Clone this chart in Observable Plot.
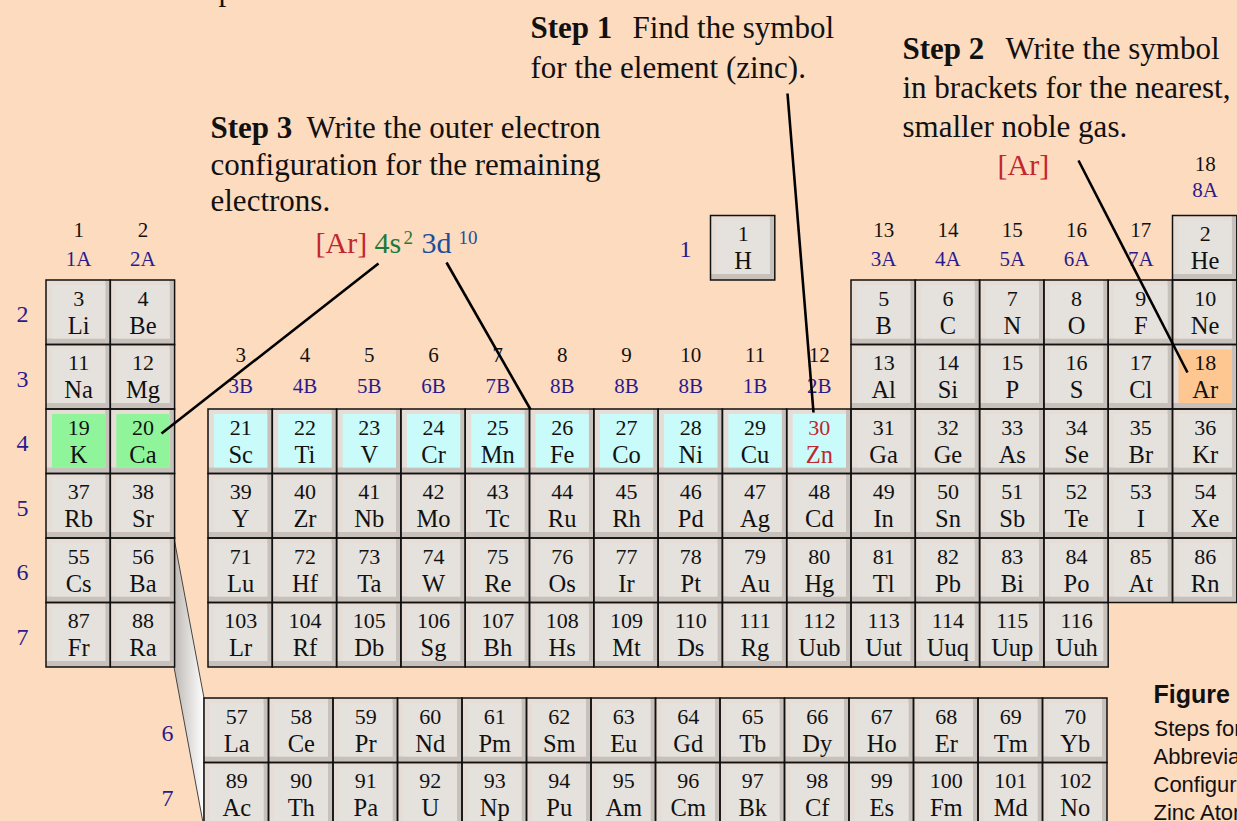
<!DOCTYPE html>
<html><head><meta charset="utf-8">
<script src="https://cdn.jsdelivr.net/npm/d3@7"></script>
<script src="https://cdn.jsdelivr.net/npm/@observablehq/plot@0.6"></script>
<style>
html,body{margin:0;padding:0;background:#fddbbf;overflow:hidden}
</style></head><body><div id="chart"></div>
<script>
// ---------- data ----------
const symbols = ["H","He","Li","Be","B","C","N","O","F","Ne","Na","Mg","Al","Si","P","S","Cl","Ar",
  "K","Ca","Sc","Ti","V","Cr","Mn","Fe","Co","Ni","Cu","Zn","Ga","Ge","As","Se","Br","Kr",
  "Rb","Sr","Y","Zr","Nb","Mo","Tc","Ru","Rh","Pd","Ag","Cd","In","Sn","Sb","Te","I","Xe",
  "Cs","Ba","La","Ce","Pr","Nd","Pm","Sm","Eu","Gd","Tb","Dy","Ho","Er","Tm","Yb",
  "Lu","Hf","Ta","W","Re","Os","Ir","Pt","Au","Hg","Tl","Pb","Bi","Po","At","Rn",
  "Fr","Ra","Ac","Th","Pa","U","Np","Pu","Am","Cm","Bk","Cf","Es","Fm","Md","No",
  "Lr","Rf","Db","Sg","Bh","Hs","Mt","Ds","Rg","Uub","Uut","Uuq","Uup","Uuh"];
const periodStarts = [1, 3, 11, 19, 37, 55, 87];
const groupNumbers = ["1","2","3","4","5","6","7","8","9","10","11","12","13","14","15","16","17","18"];
const groupLetters = ["1A","2A","3B","4B","5B","6B","7B","8B","8B","8B","1B","2B","3A","4A","5A","6A","7A","8A"];
const periodLabels = ["1","2","3","4","5","6","7"];
const fPeriodLabels = ["6","7"];
const greenSymbols = ["K","Ca"];
const cyanSymbols = ["Sc","Ti","V","Cr","Mn","Fe","Co","Ni","Cu","Zn"];
const orangeSymbols = ["Ar"];
const redSymbols = ["Zn"];

const stepLines = [
  {text:"Step 1", bold:true, x:530, y:37},
  {text:"Find the symbol", x:632, y:37},
  {text:"for the element (zinc).", x:530, y:77},
  {text:"Step 2", bold:true, x:902, y:58},
  {text:"Write the symbol", x:1005, y:58},
  {text:"in brackets for the nearest,", x:902, y:97},
  {text:"smaller noble gas.", x:902, y:136},
  {text:"Step 3", bold:true, x:210, y:137},
  {text:"Write the outer electron", x:306, y:137},
  {text:"configuration for the remaining", x:210, y:174},
  {text:"electrons.", x:210, y:210},
  {text:"p", x:218, y:-1}
];
const configParts = [
  {text:"[Ar]", color:"#c1272d", x:315, y:252, size:30},
  {text:"4s", color:"#1f7a3a", x:374, y:252, size:30},
  {text:"2", color:"#1f7a3a", x:403, y:243, size:19},
  {text:"3d", color:"#1d4f9c", x:421, y:252, size:30},
  {text:"10", color:"#1d4f9c", x:458, y:243, size:19},
  {text:"[Ar]", color:"#c1272d", x:997, y:174, size:30}
];
const pointers = [
  {x1:787, y1:93, x2:813, y2:412},
  {x1:1078, y1:160, x2:1187, y2:372},
  {x1:378, y1:263, x2:161, y2:433},
  {x1:446, y1:262, x2:530, y2:409}
];
const captionTitle = ["Figure 5.9"];
const captionLines = ["Steps for Writing the", "Abbreviated Electron", "Configuration for a", "Zinc Atom"];

// ---------- layout ----------
const CW = 64.3, FW = 64.5, RH = 64.5;
function colLeft(g){ return g===1 ? 46 : g===2 ? 110.3 : 208 + (g-3)*CW; }
function rowTop(p){ return p===1 ? 215.5 : 280 + (p-2)*RH; }

const cells = symbols.map((s, i) => {
  const z = i + 1;
  let p = 0; periodStarts.forEach((st, j) => { if (z >= st) p = j + 1; });
  const k = z - periodStarts[p-1];
  let g = null, f = null;
  if (p === 1) g = k === 0 ? 1 : 18;
  else if (p <= 3) g = k < 2 ? k + 1 : k + 11;
  else if (p <= 5) g = k + 1;
  else { if (k < 2) g = k + 1; else if (k < 16) f = k - 2; else g = k - 13; }
  let x1, y1, w;
  if (f !== null) { x1 = 204 + f*FW; y1 = 698 + (p-6)*RH; w = FW; }
  else if (z === 1) { x1 = 710.5; y1 = rowTop(1); w = CW; }
  else { x1 = colLeft(g); y1 = rowTop(p); w = CW; }
  const face = greenSymbols.includes(s) ? "#90f59a" : cyanSymbols.includes(s) ? "#c9fbfb" :
               orangeSymbols.includes(s) ? "#fec690" : "#e5e1dd";
  const ink = redSymbols.includes(s) ? "#c1272d" : "#111";
  return {z, s, p, g, f, x1, x2: x1 + w, y1, y2: y1 + RH, cx: x1 + w/2, face, ink};
});

const groupLabelData = groupNumbers.map((n, i) => {
  const g = i + 1;
  const yNum = g <= 2 || (g >= 13 && g <= 17) ? 230 : g === 18 ? 164 : 355;
  return {n, letter: groupLetters[i], x: colLeft(g) + CW/2, yNum, yLet: yNum + (g===18 ? 26 : g>=3 && g<=12 ? 31 : 29)};
});
const periodLabelData = periodLabels.map((t, i) => {
  const p = i + 1;
  return p === 1 ? {t, x: 685, y: rowTop(1) + RH/2 + 1} : {t, x: 22, y: rowTop(p) + RH/2 + 2};
});
const fLabelData = fPeriodLabels.map((t, i) => ({t, x: 167, y: 698 + i*RH + RH/2 + 3}));
const wedge = [{x: 174, y1: 538, y2: 667}, {x: 204, y1: 698, y2: 828}];

const serif = "Liberation Serif, Times New Roman, serif";
const sans = "Liberation Sans, Arial, sans-serif";

const chart = Plot.plot({
  width: 1237, height: 821,
  marginTop: 0, marginRight: 0, marginBottom: 0, marginLeft: 0,
  x: {type: "linear", domain: [0, 1237], range: [0, 1237], axis: null},
  y: {type: "linear", domain: [0, 821], range: [0, 821], axis: null},
  style: {background: "#fddbbf", overflow: "hidden"},
  marks: [
    Plot.area(wedge, {x1: "x", y1: "y1", y2: "y2", fill: "url(#wedgeGrad)", stroke: "#444", strokeWidth: 1}),
    Plot.rect(cells, {x1: "x1", x2: "x2", y1: "y1", y2: "y2", fill: "#c8c1bb"}),
    Plot.rect(cells, {x1: "x1", x2: "x2", y1: "y1", y2: "y2", fill: "#e6ddd6", insetRight: 5, insetBottom: 6}),
    Plot.rect(cells, {x1: "x1", x2: "x2", y1: "y1", y2: "y2", fill: "face", insetLeft: 6, insetTop: 5, insetRight: 5, insetBottom: 6}),
    Plot.rect(cells, {x1: "x1", x2: "x2", y1: "y1", y2: "y2", fill: "none", stroke: "#111", strokeWidth: 1.5}),
    Plot.text(cells, {x: "cx", y: d => d.y1 + 18, text: d => String(d.z), fill: "ink", fontSize: 22, fontFamily: serif}),
    Plot.text(cells, {x: "cx", y: d => d.y1 + 45.5, text: "s", fill: "ink", fontSize: 24.5, fontFamily: serif}),
    Plot.text(groupLabelData, {x: "x", y: "yNum", text: "n", fill: "#111", fontSize: 21, fontFamily: serif}),
    Plot.text(groupLabelData, {x: "x", y: "yLet", text: "letter", fill: "#2a1b8c", fontSize: 21, fontFamily: serif}),
    Plot.text(periodLabelData, {x: "x", y: "y", text: "t", fill: "#2a1b8c", fontSize: 24, fontFamily: serif}),
    Plot.text(fLabelData, {x: "x", y: "y", text: "t", fill: "#2a1b8c", fontSize: 24, fontFamily: serif}),
    Plot.link(pointers, {x1: "x1", y1: "y1", x2: "x2", y2: "y2", stroke: "#000", strokeWidth: 2.6}),
    Plot.text(stepLines.filter(d => d.bold), {x: "x", y: "y", text: "text", textAnchor: "start", lineAnchor: "bottom", fill: "#111",
      fontWeight: "bold", fontSize: 31, fontFamily: serif}),
    Plot.text(stepLines.filter(d => !d.bold), {x: "x", y: "y", text: "text", textAnchor: "start", lineAnchor: "bottom", fill: "#111",
      fontSize: 31, fontFamily: serif}),
    Plot.text(configParts, {x: "x", y: "y", text: "text", textAnchor: "start", lineAnchor: "bottom", fill: "color",
      fontSize: "size", fontFamily: serif}),
    Plot.text(captionTitle, {x: 1153, y: 702, text: d => d, textAnchor: "start", lineAnchor: "bottom", fill: "#111",
      fontWeight: "bold", fontSize: 25, fontFamily: sans}),
    Plot.text(captionLines, {x: 1153, y: (d, i) => 735 + i*28, text: d => d, textAnchor: "start", lineAnchor: "bottom",
      fill: "#111", fontSize: 22, fontFamily: sans})
  ]
});

const ns = "http://www.w3.org/2000/svg";
const defs = document.createElementNS(ns, "defs");
defs.innerHTML = '<linearGradient id="wedgeGrad" x1="0" x2="1" y1="0" y2="0"><stop offset="0" stop-color="#bdb8b4"/><stop offset="1" stop-color="#ffffff"/></linearGradient>';
chart.insertBefore(defs, chart.firstChild);
document.getElementById("chart").appendChild(chart);
</script></body></html>
